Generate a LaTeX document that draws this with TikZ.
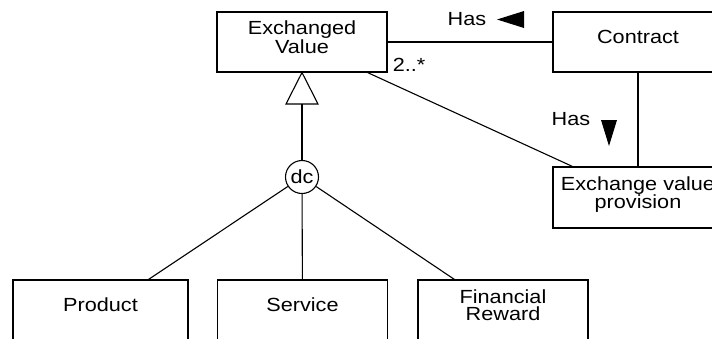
\documentclass[tikz,border=0pt]{standalone}
\usepackage{fontspec}
\setmainfont{Liberation Sans}[FakeStretch=1.14]
\usetikzlibrary{calc}
\tikzset {
    class/.style = {
        draw, rectangle, align = center, inner sep = 0pt,
        minimum width = 170pt, minimum height = 60pt,
        text depth = 10pt, line width = 1.1pt
    },
    tag/.style = {inner sep = 0pt},
    link/.style = {line width = 1.1pt},
    dc vertex/.style = {circle, draw, line width = 1.1pt, minimum size = 33pt, inner sep = 0pt}
}
\begin{document}
\begin{tikzpicture}[x = 1pt, y = -1pt, font = \fontsize{19}{17.5}\selectfont]
            \useasboundingbox (0, 0) rectangle (712, 338);
            \clip (0, 0) rectangle (712, 338);
            \node (value) [class] at (302, 42) {Exchanged\\Value};
            \node (contract) [class] at (638, 42) {Contract};
            \node (provision) [class, minimum height = 61pt] at (638, 197.5) {Exchange value\\provision};
            \node (product) [class, minimum width = 175pt] at (100.5, 310) {Product};
            \node (service) [class] at (302.5, 310) {Service};
            \node (reward) [class] at (503, 310) {Financial\\Reward};
            \node (dc) [dc vertex] at (302, 177) {dc};
            \coordinate (gen) at (302, 104);
            % associations
            \draw [link] (value) -- (contract);
            \draw [link] (contract) -- (provision);
            \draw [link] ([xshift = -20pt]value.south east) -- ([xshift = 20pt]provision.north west);
            \node (mult) [tag, anchor = base west] at ([xshift = 5pt, yshift = 1pt]value.south east) {2..*};
            \node (has top) [tag] at (467, 19.5) {Has};
            \coordinate (tip top) at (497, 19.5);
            \fill (tip top) -- ++(27, -8.5) -- ++(0, 17) -- cycle;
            \node (has side) [tag] at (571, 119.5) {Has};
            \coordinate (tip side) at (609, 146);
            \fill (tip side) -- ++(-8, -26) -- ++(16, 0) -- cycle;
            % generalization
            \draw [link, line join = miter] (value.south) -- ([xshift = 16pt]gen) -- ([xshift = -16pt]gen) -- cycle;
            \draw [link] (gen) -- (dc);
            \draw [link] (dc) -- ([xshift = -40pt]product.north east);
            \draw [link] (dc) -- (service);
            \draw [link] (dc) -- ([xshift = 37pt]reward.north west);
        \end{tikzpicture}
\end{document}
